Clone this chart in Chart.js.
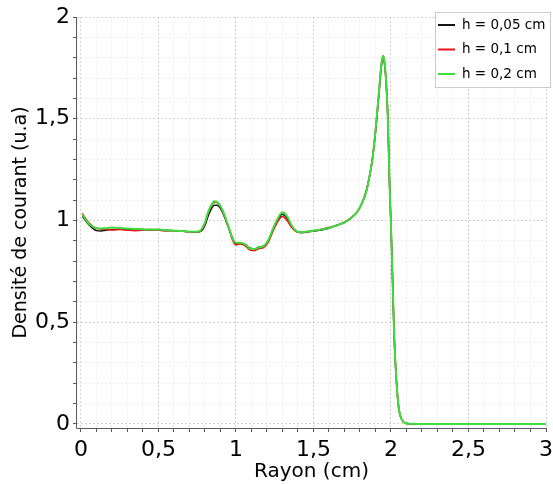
<!DOCTYPE html>
<html>
<head>
<meta charset="utf-8">
<script src="https://cdn.jsdelivr.net/npm/chart.js@4/dist/chart.umd.min.js"></script>
<style>
    html, body { margin: 0; padding: 0; background: #fff; }
    #wrap { width: 553px; height: 484px; position: relative; }
</style>
</head>
<body>
<div id="wrap"><canvas id="densityChart"></canvas></div>
<script>
// Rayon (cm)
const radius = [0.01, 0.03, 0.05, 0.08, 0.1, 0.13, 0.16, 0.2, 0.25, 0.3, 0.35, 0.4, 0.45, 0.5, 0.55, 0.6, 0.65, 0.7, 0.74, 0.77,
    0.8, 0.82, 0.84, 0.86, 0.88, 0.9, 0.92, 0.95, 0.98, 1.0, 1.03, 1.06, 1.09, 1.12, 1.15, 1.18, 1.21, 1.24, 1.27, 1.3,
    1.33, 1.36, 1.39, 1.42, 1.46, 1.5, 1.55, 1.6, 1.65, 1.7, 1.74, 1.78, 1.81, 1.84, 1.86, 1.88, 1.9, 1.92, 1.94, 1.95,
    1.96, 1.97, 1.98, 1.99, 2.0, 2.01, 2.02, 2.03, 2.04, 2.05, 2.06, 2.08, 2.1, 2.2, 2.5, 3.0];

// Densité de courant, h = 0,05 cm
const density005 = [1.02, 1.0, 0.98, 0.96, 0.95, 0.948, 0.952, 0.955, 0.957, 0.958, 0.955, 0.955, 0.953, 0.955, 0.952, 0.95, 0.948, 0.944, 0.942, 0.945,
    0.975, 1.02, 1.055, 1.075, 1.075, 1.06, 1.03, 0.97, 0.91, 0.885, 0.885, 0.88, 0.865, 0.86, 0.87, 0.875, 0.9, 0.955, 1.0, 1.03,
    1.01, 0.97, 0.945, 0.94, 0.943, 0.948, 0.953, 0.962, 0.975, 0.99, 1.01, 1.04, 1.08, 1.14, 1.21, 1.3, 1.43, 1.6, 1.77, 1.8,
    1.76, 1.66, 1.5, 1.2, 0.98, 0.72, 0.45, 0.28, 0.16, 0.08, 0.04, 0.01, 0.002, 0, 0, 0];

// h = 0,1 cm
const density01 = [1.035, 1.01, 0.99, 0.97, 0.962, 0.958, 0.955, 0.953, 0.955, 0.952, 0.95, 0.952, 0.956, 0.953, 0.948, 0.95, 0.948, 0.944, 0.943, 0.948,
    0.985, 1.035, 1.07, 1.09, 1.088, 1.07, 1.035, 0.97, 0.9, 0.88, 0.885, 0.875, 0.855, 0.852, 0.862, 0.868, 0.895, 0.95, 0.995, 1.02,
    1.0, 0.965, 0.945, 0.942, 0.945, 0.95, 0.957, 0.965, 0.977, 0.992, 1.012, 1.04, 1.08, 1.145, 1.21, 1.3, 1.44, 1.61, 1.78, 1.81,
    1.77, 1.67, 1.5, 1.2, 0.98, 0.72, 0.45, 0.28, 0.16, 0.08, 0.04, 0.01, 0.002, 0, 0, 0];

// h = 0,2 cm
const density02 = [1.03, 1.005, 0.985, 0.968, 0.962, 0.96, 0.962, 0.965, 0.963, 0.96, 0.958, 0.957, 0.955, 0.955, 0.952, 0.95, 0.948, 0.945, 0.944, 0.95,
    0.99, 1.04, 1.075, 1.095, 1.09, 1.07, 1.04, 0.975, 0.91, 0.89, 0.89, 0.882, 0.862, 0.86, 0.868, 0.875, 0.905, 0.962, 1.01, 1.04,
    1.02, 0.975, 0.948, 0.943, 0.946, 0.95, 0.955, 0.963, 0.976, 0.991, 1.011, 1.04, 1.08, 1.14, 1.21, 1.3, 1.44, 1.61, 1.78, 1.81,
    1.77, 1.67, 1.5, 1.2, 0.98, 0.72, 0.45, 0.28, 0.16, 0.08, 0.04, 0.01, 0.002, 0, 0, 0];

const seriesLabels = ['h = 0,05 cm', 'h = 0,1 cm', 'h = 0,2 cm'];

// Major tick labels (every 0,5), minor ticks every 0,1
const xTickLabels = ['0', '0,5', '1', '1,5', '2', '2,5', '3'];
const yTickLabels = ['0', '0,5', '1', '1,5', '2'];
const minorStep = 0.1;

document.addEventListener('DOMContentLoaded', () => {
    const FONT = "'DejaVu Sans', sans-serif";
    const colors = ['#141414', '#e8141a', '#3fdc3f'];
    const widths = [1.5, 1.5, 2];

    const toPoints = (ys) => radius.map((x, i) => ({ x: x, y: ys[i] }));

    // tick helpers
    const isMajor = (v) => Math.abs(v * 2 - Math.round(v * 2)) < 1e-6;
    const majorLabel = (labels, v) => isMajor(v) ? labels[Math.round(v * 2)] : '';
    const buildTicks = (maxVal) => (scale) => {
        const ticks = [];
        const n = Math.round(maxVal / minorStep);
        for (let i = 0; i <= n; i++) ticks.push({ value: +(i * minorStep).toFixed(2) });
        scale.ticks = ticks;
    };
    const gridColor = (ctx) => (ctx.tick && isMajor(ctx.tick.value)) ? '#d2d2d2' : '#eeeeee';

    // Solid axis lines (the scale border would inherit the grid dash)
    const axisLines = {
        id: 'axisLines',
        beforeDatasetsDraw(chart) {
            const { ctx: c, chartArea: a } = chart;
            c.save();
            c.strokeStyle = '#5a5a5a';
            c.lineWidth = 1;
            c.beginPath();
            c.moveTo(Math.round(a.left) - 0.5, a.top);
            c.lineTo(Math.round(a.left) - 0.5, Math.round(a.bottom) + 0.5);
            c.lineTo(a.right, Math.round(a.bottom) + 0.5);
            c.stroke();
            c.restore();
        }
    };

    // Legend box drawn inside the plot area
    const boxLegend = {
        id: 'boxLegend',
        afterDraw(chart) {
            const c = chart.ctx;
            const x0 = 435, y0 = 12, w = 115, h = 75;
            c.save();
            c.fillStyle = '#fff';
            c.fillRect(x0, y0, w, h);
            c.strokeStyle = '#cccccc';
            c.lineWidth = 1;
            c.strokeRect(x0 + 0.5, y0 + 0.5, w, h);
            c.font = '13.5px ' + FONT;
            c.textBaseline = 'middle';
            chart.data.datasets.forEach((ds, i) => {
                const yy = y0 + 13 + i * 24.5;
                c.strokeStyle = ds.borderColor;
                c.lineWidth = 2;
                c.beginPath();
                c.moveTo(x0 + 3, yy);
                c.lineTo(x0 + 20, yy);
                c.stroke();
                c.fillStyle = '#000';
                c.fillText(ds.label, x0 + 27, yy);
            });
            c.restore();
        }
    };

    const ctx = document.getElementById('densityChart').getContext('2d');
    new Chart(ctx, {
        type: 'line',
        data: {
            datasets: [density005, density01, density02].map((ys, i) => ({
                label: seriesLabels[i],
                data: toPoints(ys),
                borderColor: colors[i],
                borderWidth: widths[i],
                pointRadius: 0,
                fill: false,
                cubicInterpolationMode: 'monotone',
                order: 2 - i
            }))
        },
        options: {
            responsive: true,
            maintainAspectRatio: false,
            animation: false,
            layout: { padding: { top: 17, right: 7, left: 10, bottom: 0 } },
            plugins: {
                legend: { display: false },
                tooltip: { enabled: false }
            },
            scales: {
                x: {
                    type: 'linear',
                    min: -0.025,
                    max: 3,
                    afterBuildTicks: buildTicks(3),
                    afterFit: (scale) => { scale.height = 56; scale.paddingRight = 0; scale.paddingLeft = 0; },
                    border: { display: false, dash: [2, 2] },
                    grid: { color: gridColor, tickColor: '#5a5a5a', tickLength: 4, drawTicks: true },
                    ticks: {
                        autoSkip: false,
                        maxRotation: 0,
                        padding: 5,
                        color: '#000',
                        font: { family: FONT, size: 22 },
                        callback: (v) => majorLabel(xTickLabels, v)
                    },
                    title: {
                        display: true,
                        text: 'Rayon (cm)',
                        color: '#000',
                        font: { family: FONT, size: 20 },
                        padding: { top: 0, bottom: 0 }
                    }
                },
                y: {
                    min: -0.02,
                    max: 2,
                    afterBuildTicks: buildTicks(2),
                    afterFit: (scale) => { scale.width = 67; scale.paddingTop = 0; scale.paddingBottom = 0; },
                    border: { display: false, dash: [2, 2] },
                    grid: { color: gridColor, tickColor: '#5a5a5a', tickLength: 4, drawTicks: true },
                    ticks: {
                        autoSkip: false,
                        padding: 3,
                        color: '#000',
                        font: { family: FONT, size: 22 },
                        callback: (v) => majorLabel(yTickLabels, v)
                    },
                    title: {
                        display: true,
                        text: 'Densité de courant (u.a)',
                        color: '#000',
                        font: { family: FONT, size: 19 },
                        padding: { top: 0, bottom: 2 }
                    }
                }
            }
        },
        plugins: [axisLines, boxLegend]
    });
});
</script>
</body>
</html>
